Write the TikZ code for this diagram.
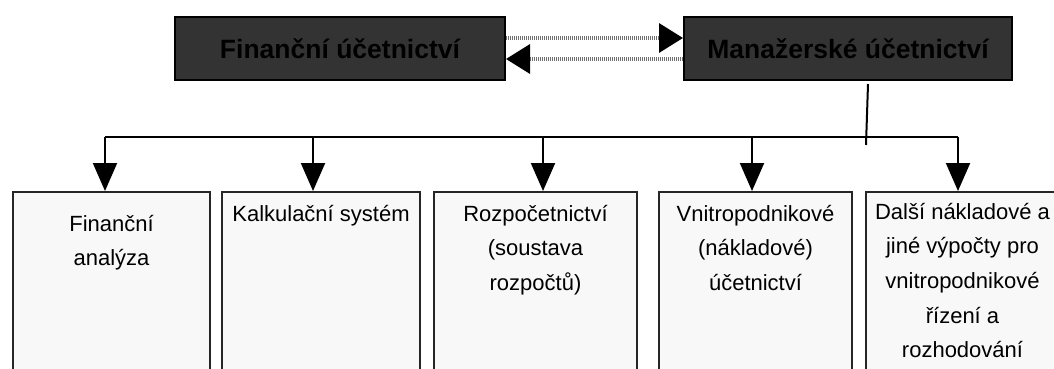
\documentclass[tikz,border=0pt]{standalone}
\usepackage{fontspec}
\setmainfont{Liberation Sans}
\usetikzlibrary{arrows.meta}
\definecolor{topfill}{HTML}{333333}
\definecolor{lowfill}{HTML}{F8F8F8}
\definecolor{dotcol}{HTML}{6E6E6E}
\newcommand\lowtext[3]{\parbox[t][240pt][t]{#1}{\vspace*{#2}\centering\strut #3}}
\begin{document}
\begin{tikzpicture}[x=1pt,y=-1pt,
  topbox/.style={draw=black, line width=2pt, fill=topfill, minimum height=63pt, inner sep=0pt,
    font=\fontsize{26.5pt}{30pt}\selectfont\bfseries},
  lowbox/.style={draw=black!85, line width=2pt, fill=lowfill, inner sep=0pt, anchor=north west,
    font=\fontsize{22pt}{34.6pt}\selectfont},
  link/.style={line width=2pt, black},
  drop/.style={link, -{Triangle[length=28pt,width=24pt]}},
  dotarr/.style={line width=3.5pt, dotcol, dash pattern=on 1pt off 1pt,
    -{Triangle[length=24pt,width=29pt,color=black]}}]
\useasboundingbox (0,0) rectangle (1054,369);
\clip (0,0) rectangle (1054,369);
\fill[white] (0,0) rectangle (1054,369);

\node[topbox, minimum width=330pt] (F) at (340,48.5) {Finanční účetnictví};
\node[topbox, minimum width=328pt] (M) at (848,48.5) {Manažerské účetnictví};

\draw[dotarr] ([yshift=10.5pt]F.east) -- ([yshift=10.5pt]M.west);
\draw[dotarr] ([yshift=-10.5pt]M.west) -- ([yshift=-10.5pt]F.east);

\node[lowbox] (b1) at (12,191) {\lowtext{197pt}{14.8pt}{Finanční\\analýza}};
\node[lowbox] (b2) at (221,191) {\lowtext{198pt}{4.8pt}{Kalkulační systém}};
\node[lowbox] (b3) at (433,191) {\lowtext{203pt}{4.8pt}{Rozpočetnictví\\(soustava\\rozpočtů)}};
\node[lowbox] (b4) at (658,191) {\lowtext{193pt}{4.8pt}{Vnitropodnikové\\(nákladové)\\účetnictví}};
\node[lowbox] (b5) at (865,191) {\lowtext{193pt}{3pt}{Další nákladové a\\jiné výpočty pro\\vnitropodnikové\\řízení a\\rozhodování}};

\coordinate (d1) at (105,137);
\coordinate (d2) at (313,137);
\coordinate (d3) at (543,137);
\coordinate (d4) at (752,137);
\coordinate (d5) at (958,137);
\draw[link] (d1) -- (d5);
\foreach \i in {1,...,5} \draw[drop] (d\i) -- (d\i |- b\i.north);

\coordinate (v1) at ([xshift=20pt,yshift=-3pt]M.south);
\coordinate (v2) at (866,145);
\draw[link] (v1) -- (v2);
\end{tikzpicture}
\end{document}
